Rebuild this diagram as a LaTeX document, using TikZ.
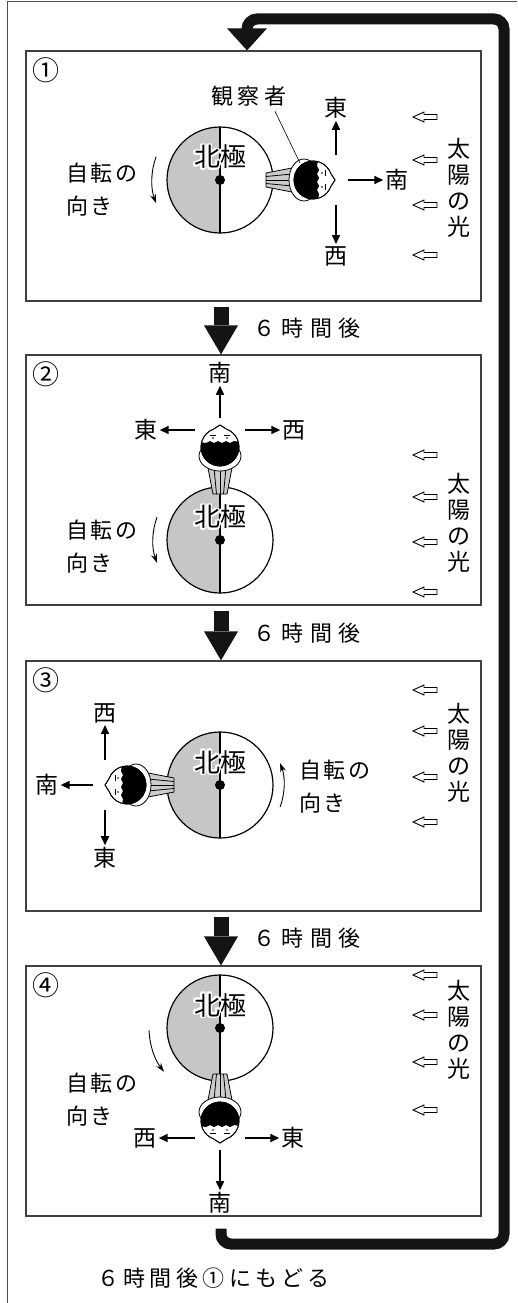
\documentclass[tikz,border=0pt]{standalone}
\usepackage{fontspec}
\setmainfont{Noto Sans CJK JP}
\usepackage{contour}
\contourlength{1.8pt}
\usetikzlibrary{arrows.meta,calc}

\tikzset{
  every node/.style={font=\fontsize{23}{26}\selectfont, inner sep=2pt},
  frame/.style={draw=black!70, line width=1pt},
  panel/.style={draw=black!75, line width=1.2pt, minimum width=455pt, minimum height=250pt, inner sep=0pt},
  bigarrow/.style={draw=black!92, line width=15pt, -{Triangle[width=34pt,length=29pt,line width=0pt]}},
  loopback/.style={draw=black!92, line width=11pt, rounded corners=10pt, -{Triangle[width=40pt,length=22pt,line width=0pt]}},
  night/.style={fill=gray!45},
  globe/.style={line width=1.2pt},
  dirarrow/.style={line width=1.6pt, -{Triangle[width=8pt,length=9pt]}},
  rotarrow/.style={line width=0.9pt, -{Stealth[width=6pt,length=9pt]}},
  sunray/.style={line width=0.9pt, line join=miter},
  spaced/.style={font=\fontsize{22}{26}\selectfont\addfontfeature{LetterSpace=30}},
  rotlbl/.style={anchor=west, align=left, font=\fontsize{22}{33}\selectfont\addfontfeature{LetterSpace=12}},
  sunlbl/.style={align=center, font=\fontsize{23}{26}\selectfont},
  numlbl/.style={font=\fontsize{27}{30}\selectfont},
  polelbl/.style={font=\fontsize{26}{28}\selectfont},
  person/.style={line width=0.8pt},
}

\begin{document}
\begin{tikzpicture}[x=1pt,y=-1pt]
  \useasboundingbox (0,0) rectangle (517,1303);

  % outer frame
  \draw[frame] (7,1303) -- (7,2) -- (517,2);

  % panels 1-4
  \foreach \y/\n [count=\i] in {176/①,480/②,786/③,1091/④} {
    \node[panel] (p\i) at (253.5,\y) {};
    \node[numlbl] (n\i) at ([shift={(21,20)}]p\i.north west) {\n};
  }

  \coordinate (ax) at (221,0);
  \coordinate (bx) at (247,0);
  \coordinate (hx) at (251,0);

  % six hours later
  \foreach \i [evaluate=\i as \j using int(\i+1)] in {1,2,3} {
    \draw[bigarrow] ([yshift=-5pt]p\i.south -| ax) -- (p\j.north -| ax);
    \path (p\i.south) -- (p\j.north) coordinate[midway] (m\i);
    \node[spaced, anchor=west] (h\i) at (m\i -| hx) {６時間後};
  }

  % back to panel 1
  \draw[loopback] ([yshift=-12pt]p4.south -| ax) |- (504,1244) |- (247,19) -- (p1.north -| bx);
  \node[spaced, anchor=west, font=\fontsize{22}{26}\selectfont\addfontfeature{LetterSpace=20}] (back) at (95,1278) {６時間後①にもどる};

  % the earth seen from above the north pole
  \foreach \y [count=\i] in {180,540,785,1028} {
    \coordinate (e\i) at (220,\y);
    \fill[night] (e\i) ++(0,-53) arc (270:90:53) -- cycle;
    \draw[globe] (e\i) circle (53);
    \draw[globe] (e\i) ++(0,-53) -- ++(0,106);
    \fill (e\i) circle (5);
    \node[polelbl] (np\i) at ([yshift=22pt]e\i) {\contour{white}{北極}};
  }

  % observer on the surface
  \foreach \i/\a in {1/0,2/90,3/180,4/270} {
    \begin{scope}[shift={(e\i)}, rotate=\a, person]
      \filldraw[fill=gray!40] (46,-7) -- (72,-12) -- (72,12) -- (46,7) -- cycle;
      \draw (46,0) -- (72,0);
      \draw (46,-3.5) -- (72,-6) (46,3.5) -- (72,6);
      \filldraw[fill=white] (84,0) ellipse (15 and 21);
      \filldraw[fill=white] (93,0) ++(20:19) arc (20:340:19) -- (115,0) -- cycle;
      \begin{scope}
        \clip (93,0) circle (19);
        \fill (70,-20) -- (98,-20) -- (97,-14) -- (99,-10) -- (97,-6) -- (99,-2)
          -- (97,2) -- (99,6) -- (97,10) -- (99,14) -- (98,20) -- (70,20) -- cycle;
      \end{scope}
      \draw (93,0) ++(20:19) arc (20:340:19) -- (115,0) -- cycle;
      \draw (105,-10) -- (105,-4) (105,4) -- (105,10);
      \fill (102,-7) circle (0.9) (102,7) circle (0.9);
    \end{scope}
  }

  % observer label
  \node[font=\fontsize{22}{26}\selectfont\addfontfeature{LetterSpace=20}] (obs) at (249,96) {観察者};
  \coordinate (top1) at (300,163);
  \draw[line width=0.6pt] ([xshift=26pt,yshift=-3pt]obs.south) -- (top1);

  % directions, panel 1
  \coordinate (c1) at (336,180);
  \node (s1) at (397,180) {南};
  \node (ea1) at (336,108) {東};
  \node (w1) at (336,256) {西};
  \draw[dirarrow, shorten <=12pt] (c1) -- (s1);
  \draw[dirarrow, shorten <=25pt] (c1) -- (ea1);
  \draw[dirarrow, shorten <=25pt] (c1) -- (w1);

  % directions, panel 2
  \coordinate (c2) at (220,430);
  \node (s2) at (220,373) {南};
  \node (ea2) at (146,430) {東};
  \node (w2) at (294,430) {西};
  \draw[dirarrow, shorten <=12pt] (c2) -- (s2);
  \draw[dirarrow, shorten <=25pt] (c2) -- (ea2);
  \draw[dirarrow, shorten <=25pt] (c2) -- (w2);

  % directions, panel 3
  \coordinate (c3) at (105,785);
  \node (s3) at (47,785) {南};
  \node (w3) at (105,713) {西};
  \node (ea3) at (105,858) {東};
  \draw[dirarrow, shorten <=12pt] (c3) -- (s3);
  \draw[dirarrow, shorten <=25pt] (c3) -- (w3);
  \draw[dirarrow, shorten <=25pt] (c3) -- (ea3);

  % directions, panel 4
  \coordinate (c4) at (220,1138);
  \node (s4) at (220,1203) {南};
  \node (w4) at (145,1138) {西};
  \node (ea4) at (293,1138) {東};
  \draw[dirarrow, shorten <=12pt] (c4) -- (s4);
  \draw[dirarrow, shorten <=25pt] (c4) -- (w4);
  \draw[dirarrow, shorten <=25pt] (c4) -- (ea4);

  % sense of rotation
  \draw[rotarrow] (e1) ++(200:68) arc (200:160:68);
  \draw[rotarrow] (e2) ++(200:67) arc (200:160:67);
  \draw[rotarrow] (e3) ++(20:64) arc (20:-20:64);
  \draw[rotarrow] (e4) ++(178:71) arc (178:142:71);
  \node[rotlbl] (rot1) at (64,190) {自転の\\向き};
  \node[rotlbl] (rot2) at (64,547) {自転の\\向き};
  \node[rotlbl] (rot3) at (297,787) {自転の\\向き};
  \node[rotlbl] (rot4) at (64,1100) {自転の\\向き};

  % sunlight
  \foreach \y in {117,160,205,255,455,497,542,592,690,731,777,822,975,1015,1062,1110}
    \draw[sunray] (413,\y) -- ++(11,-5) -- ++(0,2.5) -- ++(13,0) -- ++(0,5) -- ++(-13,0) -- ++(0,2.5) -- cycle;
  \foreach \y [count=\i] in {188,523,753,1030}
    \node[sunlbl] (sun\i) at (459,\y) {太\\陽\\の\\光};
\end{tikzpicture}
\end{document}
